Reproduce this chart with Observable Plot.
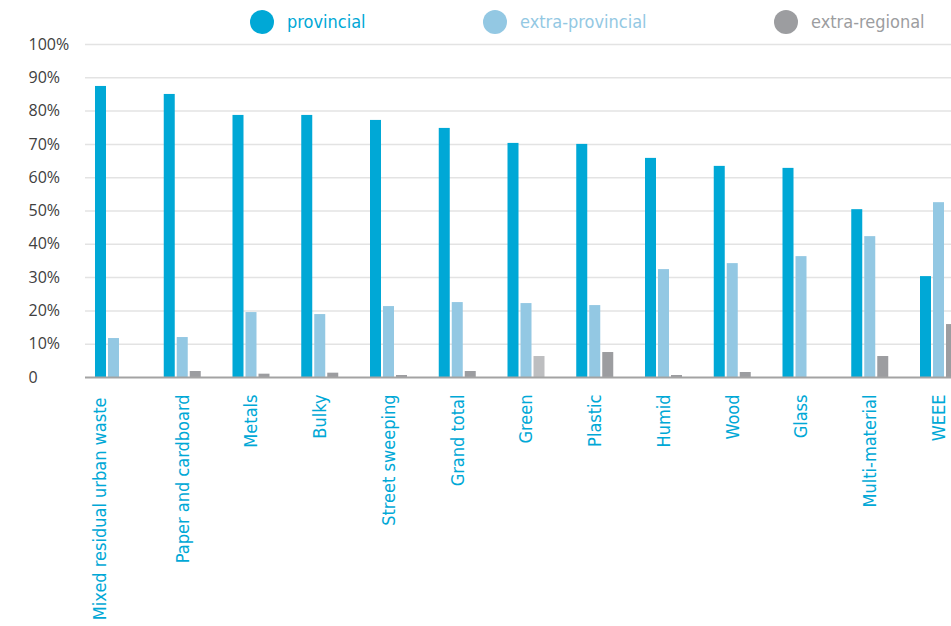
<!DOCTYPE html>
<html>
<head>
<meta charset="utf-8">
<script src="https://cdn.jsdelivr.net/npm/d3@7"></script>
<script src="https://cdn.jsdelivr.net/npm/@observablehq/plot@0.6"></script>
<style>
  html, body { margin: 0; padding: 0; background: #fff; overflow: hidden; width: 951px; height: 626px; }
  #wrap { position: relative; width: 951px; height: 626px; }
  #legend { position: absolute; left: 0; top: 0; width: 951px; height: 40px; z-index: 2; font-family: "DejaVu Sans Condensed", "DejaVu Sans", sans-serif; font-size: 18px; }
  .item { position: absolute; top: 9px; display: flex; align-items: center; height: 25px; }
  .dot { width: 24px; height: 24px; border-radius: 50%; margin-right: 13px; }
  #chart { position: absolute; left: 0; top: 0; }
</style>
</head>
<body>
<div id="wrap">
<div id="chart"></div>
<div id="legend"></div>
</div>
<script>
const categories = ["Mixed residual urban waste","Paper and cardboard","Metals","Bulky","Street sweeping","Grand total","Green","Plastic","Humid","Wood","Glass","Multi-material","WEEE"];
const provincial      = [87.4, 85.0, 78.7, 78.7, 77.2, 74.8, 70.3, 70.0, 65.8, 63.4, 62.8, 50.4, 30.3];
const extraProvincial = [11.7, 12.0, 19.5, 18.9, 21.3, 22.5, 22.2, 21.6, 32.4, 34.2, 36.3, 42.3, 52.5];
const extraRegional   = [0.0, 1.8, 1.0, 1.3, 0.6, 1.8, 6.3, 7.5, 0.6, 1.5, 0.0, 6.3, 15.9];
const seriesNames = ["provincial", "extra-provincial", "extra-regional"];
const seriesColors = ["#00a8d6", "#93c8e3", "#9c9da0"];
const yTicks = [0, 10, 20, 30, 40, 50, 60, 70, 80, 90, 100];
const yTickLabels = ["0", "10%", "20%", "30%", "40%", "50%", "60%", "70%", "80%", "90%", "100%"];

// legend
const legend = document.getElementById("legend");
const legendLeft = [250, 483, 774];
seriesNames.forEach((name, i) => {
  const it = document.createElement("div");
  it.className = "item";
  it.style.left = legendLeft[i] + "px";
  it.innerHTML = `<span class="dot" style="background:${seriesColors[i]}"></span><span style="color:${seriesColors[i]}">${name}</span>`;
  legend.appendChild(it);
});

const rows = (vals) => categories.map((c, i) => ({category: c, value: vals[i]}));
const provRows = rows(provincial);
const extRows = rows(extraProvincial);
const regRows = rows(extraRegional);

const labelFont = {fontFamily: "DejaVu Sans Condensed, DejaVu Sans, sans-serif", fontSize: 18, fill: "#00a8d6"};

const chart = Plot.plot({
  width: 951,
  height: 626,
  marginTop: 44,
  marginBottom: 249,
  marginLeft: 85,
  marginRight: 0,
  style: {background: "transparent", overflow: "hidden"},
  x: {domain: categories, range: [85, 967], paddingInner: 0.84, paddingOuter: 0.3345, round: false, axis: null},
  y: {domain: [0, 100], axis: null},
  marks: [
    Plot.ruleY(yTicks.slice(1), {stroke: "#e3e3e3", strokeWidth: 1.5}),
    Plot.text(yTicks, {y: d => d, text: (d, i) => yTickLabels[i], frameAnchor: "left", textAnchor: "start", dx: -57,
      dy: (0), fill: "#404040", fontSize: 16, fontFamily: "Open Sans, sans-serif"}),
    Plot.barY(provRows, {x: "category", y: "value", fill: seriesColors[0], dx: -13}),
    Plot.barY(extRows, {x: "category", y: "value", fill: seriesColors[1]}),
    Plot.barY(regRows.filter(d => d.category !== "Green"), {x: "category", y: "value", fill: seriesColors[2], dx: 13}),
    Plot.barY(regRows.filter(d => d.category === "Green"), {x: "category", y: "value", fill: "#bdbec0", dx: 13}),
    Plot.ruleY([0], {stroke: "#a3a3a3", strokeWidth: 2}),
    Plot.axisX(categories.slice(1), {tickRotate: -90, tickSize: 0, tickPadding: 17, label: null, ...labelFont}),
    Plot.axisX([categories[0]], {tickRotate: -90, tickSize: 0, tickPadding: 20, label: null, dx: -14, ...labelFont})
  ]
});
document.getElementById("chart").appendChild(chart);
</script>
</body>
</html>
